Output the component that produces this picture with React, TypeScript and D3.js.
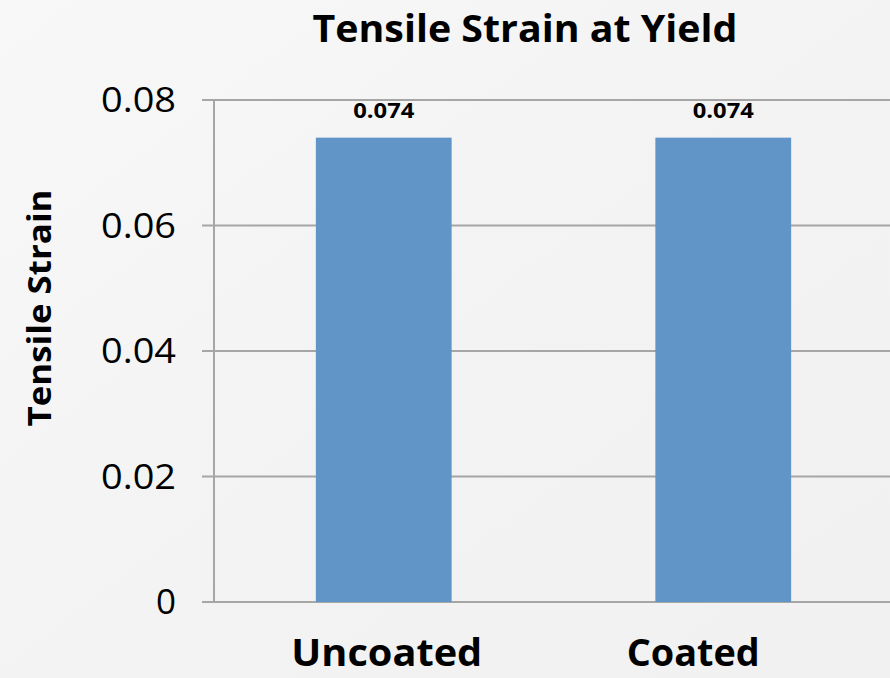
import React from "react";
import * as d3 from "d3";

const categories: string[] = ["Uncoated", "Coated"];
const strainValues: number[] = [0.074, 0.074];
const yTicks: number[] = [0, 0.02, 0.04, 0.06, 0.08];
const yTickLabels: string[] = ["0", "0.02", "0.04", "0.06", "0.08"];

const W = 890;
const H = 678;
const margin = { left: 214, right: -3, top: 100, bottom: 76 };
const FONT = "'Open Sans', 'DejaVu Sans', sans-serif";

export default function App() {
  const x = d3
    .scaleBand<string>()
    .domain(categories)
    .range([margin.left, W - margin.right])
    .paddingInner(0.6)
    .paddingOuter(0.3);
  const y = d3
    .scaleLinear()
    .domain([0, 0.08])
    .range([H - margin.bottom, margin.top]);

  const bw = x.bandwidth();

  return (
    <svg
      width={W}
      height={H}
      style={{ position: "absolute", left: 0, top: 0, display: "block" }}
      fontFamily={FONT}
    >
      <defs>
        <linearGradient id="bgGrad" x1="0" y1="0" x2="1" y2="1">
          <stop offset="0" stopColor="#f8f8f8" />
          <stop offset="0.5" stopColor="#f3f3f3" />
          <stop offset="1" stopColor="#f1f1f1" />
        </linearGradient>
      </defs>
      <rect x={0} y={0} width={W} height={H} fill="url(#bgGrad)" />

      {/* title */}
      <text
        x={525}
        y={42}
        textAnchor="middle"
        fontSize={38}
        fontWeight="bold"
        fill="#000"
        textLength={425}
        lengthAdjust="spacingAndGlyphs"
      >
        Tensile Strain at Yield
      </text>

      {/* gridlines + tick marks */}
      {yTicks.map((t, i) => (
        <line
          key={"g" + i}
          x1={margin.left - 12}
          x2={W}
          y1={y(t)}
          y2={y(t)}
          stroke="#a6a6a6"
          strokeWidth={2}
        />
      ))}
      <line
        x1={margin.left}
        x2={margin.left}
        y1={y(0.08)}
        y2={y(0)}
        stroke="#a6a6a6"
        strokeWidth={2}
      />

      {/* tick labels */}
      {yTicks.map((t, i) => (
        <text
          key={"t" + i}
          x={176}
          y={y(t) + 12}
          textAnchor="end"
          fontSize={35}
          fill="#000"
          textLength={yTickLabels[i].length === 1 ? undefined : 75}
          lengthAdjust="spacingAndGlyphs"
        >
          {yTickLabels[i]}
        </text>
      ))}

      {/* bars */}
      {categories.map((c, i) => (
        <rect
          key={"b" + i}
          x={x(c)!}
          y={y(strainValues[i])}
          width={bw}
          height={y(0) - y(strainValues[i])}
          fill="#6195c8"
        />
      ))}

      {/* value labels */}
      {categories.map((c, i) => (
        <text
          key={"v" + i}
          x={x(c)! + bw / 2}
          y={y(strainValues[i]) - 20}
          textAnchor="middle"
          fontSize={22}
          fontWeight="bold"
          fill="#000"
          textLength={61}
          lengthAdjust="spacingAndGlyphs"
        >
          {strainValues[i].toFixed(3)}
        </text>
      ))}

      {/* category labels */}
      {categories.map((c, i) => (
        <text
          key={"c" + i}
          x={x(c)! + bw / 2 + (i === 1 ? -30 : 3)}
          y={666}
          textAnchor="middle"
          fontSize={38}
          fontWeight="bold"
          fill="#000"
          textLength={i === 0 ? 191 : 133}
          lengthAdjust="spacingAndGlyphs"
        >
          {c}
        </text>
      ))}

      {/* y axis title */}
      <text
        transform={`translate(51, 308) rotate(-90)`}
        textAnchor="middle"
        fontSize={33}
        fontWeight="bold"
        fill="#000"
        textLength={237}
        lengthAdjust="spacingAndGlyphs"
      >
        Tensile Strain
      </text>
    </svg>
  );
}
